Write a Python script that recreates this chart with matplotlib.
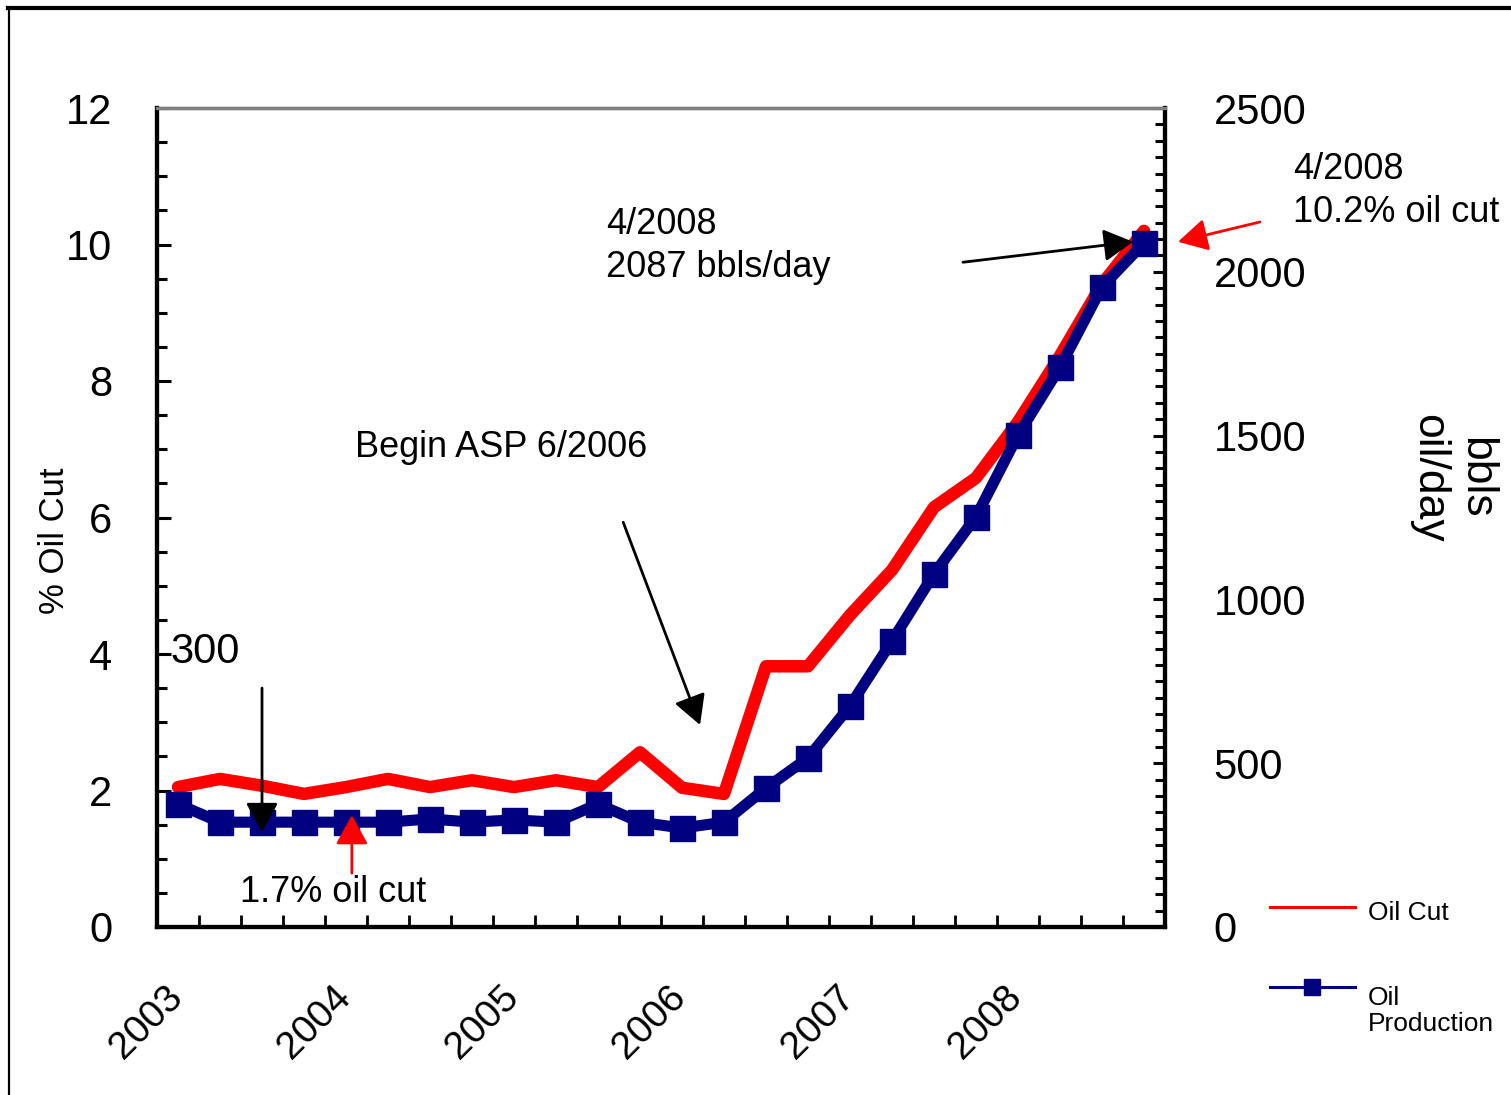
import numpy as np
import matplotlib
matplotlib.use("Agg")
import matplotlib.pyplot as plt
from matplotlib.lines import Line2D
from matplotlib.ticker import MultipleLocator, FixedLocator
from matplotlib.transforms import ScaledTranslation

plt.rcParams['font.family'] = ['Liberation Sans', 'DejaVu Sans']

# ---------------- data ----------------
years = ['2003', '2004', '2005', '2006', '2007', '2008']
oil_cut = [2.05, 2.17, 2.07, 1.95, 2.05, 2.17, 2.05, 2.15, 2.05, 2.15, 2.05, 2.56,
           2.04, 1.95, 3.82, 3.82, 4.57, 5.23, 6.15, 6.58, 7.40, 8.37, 9.42, 10.2]
oil_prod = [375, 320, 320, 320, 320, 320, 330, 320, 327, 320, 375, 320,
            302, 320, 424, 516, 675, 873, 1078, 1252, 1502, 1709, 1954, 2088]
series_names = ['Oil Cut', 'Oil\nProduction']

W, H = 1511, 1095
fig = plt.figure(figsize=(W / 100, H / 100), dpi=100)

def fx(px):
    return px / W

def fy(py):
    return 1 - py / H

ax = fig.add_axes([fx(157), fy(927), fx(1165) - fx(157), fy(108) - fy(927)])
ax2 = ax.twinx()

n = len(oil_cut)
x = np.arange(n) + 0.5

ax.plot(x, oil_cut, color='#FF0000', lw=9, solid_capstyle='round',
        solid_joinstyle='round', zorder=3)
ax2.plot(x, oil_prod, color='#000080', lw=8, marker='s', markersize=18,
         solid_joinstyle='round', zorder=3, clip_on=False)

ax.set_xlim(0, n)
ax.set_ylim(0, 12)
ax2.set_ylim(0, 2500)

# x ticks: minor ticks at quarter boundaries, year labels every 4 quarters
year_pos = np.arange(len(years)) * 4 + 0.5
ax.set_xticks(year_pos)
ax.set_xticklabels([])
ax.tick_params(axis='x', which='major', length=0)
ax.xaxis.set_minor_locator(FixedLocator(np.arange(1, n)))
ax.tick_params(axis='x', which='minor', direction='in', length=9, width=2)
lab_tr = ax.get_xaxis_transform() + ScaledTranslation(-0.14, -0.52, fig.dpi_scale_trans)
for pos, yr in zip(year_pos, years):
    ax.text(pos, 0, yr, transform=lab_tr, rotation=45, ha='right', va='top',
            rotation_mode='anchor', fontsize=28, clip_on=False)

ax.yaxis.set_major_locator(MultipleLocator(2))
ax.yaxis.set_minor_locator(MultipleLocator(0.5))
ax.tick_params(axis='y', which='major', direction='in', length=10, width=2.2,
               labelsize=30, pad=32)
ax.tick_params(axis='y', which='minor', direction='in', length=7.5, width=2.2)

ax2.yaxis.set_major_locator(MultipleLocator(500))
ax2.yaxis.set_minor_locator(MultipleLocator(50))
ax2.tick_params(axis='y', which='major', direction='in', length=9, width=2.2,
                labelsize=30, pad=35)
ax2.tick_params(axis='y', which='minor', direction='in', length=7.5, width=2.2)

for a in (ax, ax2):
    for s in ('left', 'bottom', 'right'):
        a.spines[s].set_color('black')
        a.spines[s].set_linewidth(3)
    a.spines['top'].set_color('#808080')
    a.spines['top'].set_linewidth(2.4)
    a.patch.set_visible(False)

# axis titles
fig.text(fx(55), fy(541), '% Oil Cut', rotation=90, ha='center', va='center',
         fontsize=25)
fig.text(fx(1452), fy(478), 'bbls\noil/day', rotation=-90, ha='center',
         va='center', multialignment='center', fontsize=32, linespacing=1.2)

# annotations (drawn on top axes, in left-axis data coordinates)
arrow_kw = dict(arrowstyle='-|>,head_length=0.4,head_width=0.22',
                mutation_scale=45, lw=2, shrinkA=0, shrinkB=0)
dc = ax.transData

def arrow(start, end, color):
    ax2.annotate('', xy=end, xytext=start, xycoords=dc, textcoords=dc,
                 arrowprops=dict(color=color, **arrow_kw),
                 annotation_clip=False, zorder=10)

ax2.text(0.31, 4.03, '300', fontsize=30, ha='left', va='center', transform=dc)
arrow((2.5, 3.50), (2.5, 1.39), 'black')

ax2.text(1.98, 0.50, '1.7% oil cut', fontsize=26, ha='left', va='center',
         transform=dc)
arrow((4.64, 0.79), (4.64, 1.64), '#FF0000')

ax2.text(4.71, 7.03, 'Begin ASP 6/2006', fontsize=26, ha='left', va='center',
         transform=dc)
arrow((11.1, 5.93), (12.93, 2.96), 'black')

ax2.text(10.69, 9.98, '4/2008\n2087 bbls/day', fontsize=26, ha='left',
         va='center', linespacing=1.28, transform=dc)
arrow((19.19, 9.74), (23.24, 10.04), 'black')

ax2.text(27.05, 10.78, '4/2008\n10.2% oil cut', fontsize=26, ha='left',
         va='center', linespacing=1.28, clip_on=False, transform=dc)
arrow((26.26, 10.33), (24.31, 10.04), '#FF0000')

# legend (manual)
fig.add_artist(Line2D([fx(1270), fx(1355)], [fy(907), fy(907)],
                      color='#FF0000', lw=2.2, transform=fig.transFigure))
fig.add_artist(Line2D([fx(1270), fx(1355)], [fy(987), fy(987)],
                      color='#000080', lw=2.2, transform=fig.transFigure))
fig.add_artist(Line2D([fx(1312)], [fy(987)], color='#000080', marker='s',
                      markersize=11, lw=0, transform=fig.transFigure))
fig.text(fx(1368), fy(913), series_names[0], fontsize=19, ha='left', va='center')
fig.text(fx(1368), fy(1011), series_names[1], fontsize=19, ha='left',
         va='center', linespacing=1.1)

# outer frame
fig.add_artist(Line2D([fx(8), 1.0], [fy(8), fy(8)], color='black', lw=3,
                      transform=fig.transFigure))
fig.add_artist(Line2D([fx(9), fx(9)], [0, fy(8)], color='black', lw=1.6,
                      transform=fig.transFigure))

fig.savefig('out.png', dpi=100)
